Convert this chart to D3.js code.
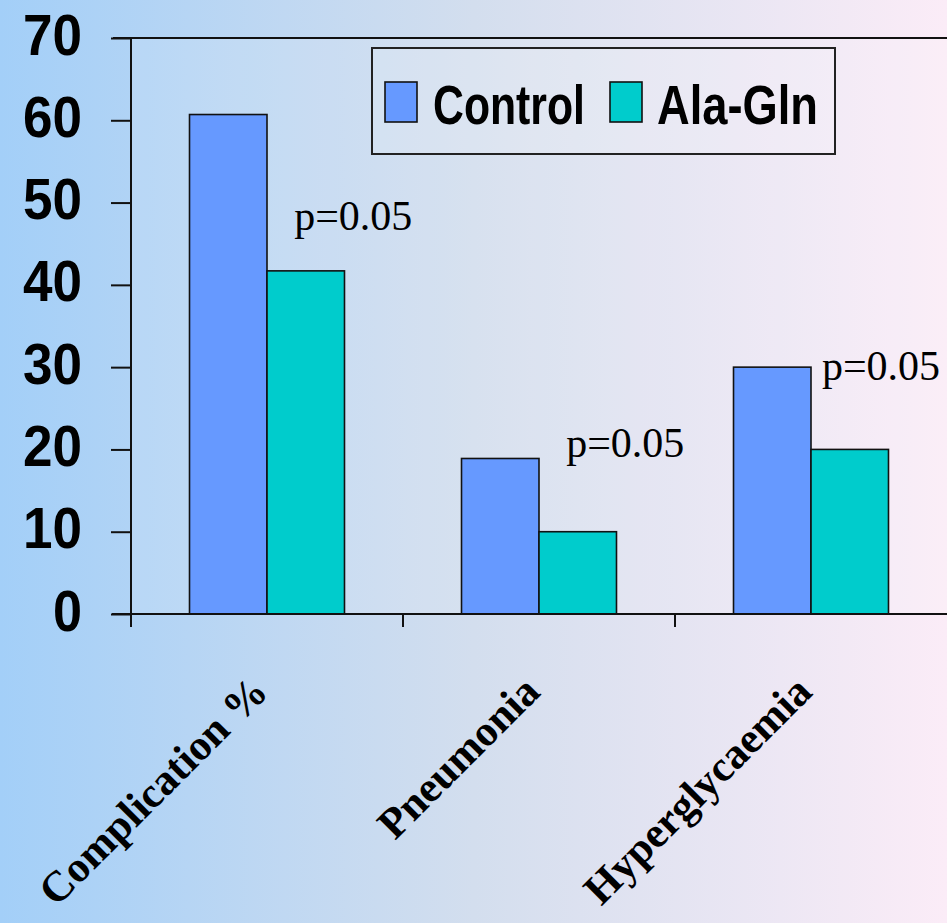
<!DOCTYPE html>
<html>
<head>
<meta charset="utf-8">
<script src="https://cdn.jsdelivr.net/npm/d3@7"></script>
<style>
  html, body { margin: 0; padding: 0; overflow: hidden; }
  svg { display: block; }
</style>
</head>
<body>
<svg id="chart" width="947" height="923"></svg>
<script>
// ---- data ----
const categories = ["Complication %", "Pneumonia", "Hyperglycaemia"];
const seriesNames = ["Control", "Ala-Gln"];
const controlValues = [60.7, 18.9, 30];
const alaGlnValues = [41.7, 10, 20];
const yTicks = [0, 10, 20, 30, 40, 50, 60, 70];
const pLabels = ["p=0.05", "p=0.05", "p=0.05"];
const pLabelValue = [46.7, 19.1, 28.4];     // baseline height in data units
const pLabelBandPos = [0.60, 0.60, 0.54];   // position across the category band
const seriesColors = ["#6699FF", "#00CCCC"];

// ---- layout ----
const W = 947, H = 923;
const plot = { left: 131, right: 947, top: 38, bottom: 614 };
const svg = d3.select("#chart");

const defs = svg.append("defs");
const grad = defs.append("linearGradient").attr("id", "bg").attr("x1", "0").attr("x2", "1").attr("y1", "0").attr("y2", "0");
grad.append("stop").attr("offset", "0").attr("stop-color", "#a3cff8");
grad.append("stop").attr("offset", "0.5").attr("stop-color", "#d3deee");
grad.append("stop").attr("offset", "1").attr("stop-color", "#fbecf7");
svg.append("rect").attr("width", W).attr("height", H).attr("fill", "url(#bg)");

// plot area tint
svg.append("rect")
  .attr("x", plot.left).attr("y", plot.top)
  .attr("width", plot.right - plot.left).attr("height", plot.bottom - plot.top)
  .attr("fill", "#ffffff").attr("fill-opacity", 0.1);

const x0 = d3.scaleBand().domain(categories).range([plot.left, plot.right]).paddingInner(0).paddingOuter(0);
const x1 = d3.scaleBand().domain(seriesNames).range([0, x0.bandwidth()]).paddingInner(0).paddingOuter(0.755);
const y = d3.scaleLinear().domain([0, 70]).range([plot.bottom, plot.top]);

const rows = categories.map((c, i) => ({ cat: c, vals: [controlValues[i], alaGlnValues[i]] }));

// bars
const g = svg.append("g");
rows.forEach(r => {
  r.vals.forEach((v, j) => {
    g.append("rect")
      .attr("x", x0(r.cat) + x1(seriesNames[j]))
      .attr("y", y(v))
      .attr("width", x1.bandwidth())
      .attr("height", y(0) - y(v))
      .attr("fill", seriesColors[j])
      .attr("stroke", "#111")
      .attr("stroke-width", 1.6);
  });
});

// top frame line
svg.append("line")
  .attr("x1", 113).attr("x2", plot.right)
  .attr("y1", y(70)).attr("y2", y(70))
  .attr("stroke", "#111").attr("stroke-width", 2);

// y axis
const yAxis = d3.axisLeft(y).tickValues(yTicks).tickSize(20).tickFormat("");
const yg = svg.append("g").attr("transform", `translate(${plot.left},0)`).call(yAxis);
yg.select(".domain").remove();
yg.selectAll(".tick line").attr("stroke", "#111").attr("stroke-width", 2);
svg.append("line")
  .attr("x1", plot.left).attr("x2", plot.left)
  .attr("y1", plot.top).attr("y2", plot.bottom + 13)
  .attr("stroke", "#111").attr("stroke-width", 2);

svg.append("g").selectAll("text").data(yTicks).join("text")
  .attr("x", 82)
  .attr("y", d => y(d) + 16.5)
  .attr("text-anchor", "end")
  .attr("font-family", "'Liberation Sans', Arial, sans-serif")
  .attr("font-weight", "bold")
  .attr("font-size", 57)
  .attr("textLength", d => String(d).length === 1 ? 29 : 59)
  .attr("lengthAdjust", "spacingAndGlyphs")
  .attr("fill", "#000")
  .text(d => d);

// x axis
svg.append("line")
  .attr("x1", 112).attr("x2", plot.right)
  .attr("y1", plot.bottom).attr("y2", plot.bottom)
  .attr("stroke", "#111").attr("stroke-width", 2);
const boundaries = categories.map(c => x0(c));
svg.append("g").selectAll("line").data(boundaries).join("line")
  .attr("x1", d => d).attr("x2", d => d)
  .attr("y1", plot.bottom).attr("y2", plot.bottom + 13)
  .attr("stroke", "#111").attr("stroke-width", 2);

// category labels
svg.append("g").selectAll("text").data(categories).join("text")
  .attr("transform", d => `translate(${x0(d) + x0.bandwidth() / 2 + 3},694) rotate(-45)`)
  .attr("text-anchor", "end")
  .attr("font-family", "'Liberation Serif', 'Times New Roman', serif")
  .attr("font-weight", "bold")
  .attr("font-size", 43)
  .attr("fill", "#000")
  .text(d => d);

// p-value annotations
svg.append("g").selectAll("text").data(categories).join("text")
  .attr("x", (d, i) => x0(d) + x0.bandwidth() * pLabelBandPos[i])
  .attr("y", (d, i) => y(pLabelValue[i]))
  .attr("font-family", "'Liberation Serif', 'Times New Roman', serif")
  .attr("font-size", 42)
  .attr("fill", "#000")
  .text((d, i) => pLabels[i]);

// legend
const lg = svg.append("g");
lg.append("rect")
  .attr("x", 372).attr("y", 48).attr("width", 463).attr("height", 106)
  .attr("fill", "#ffffff").attr("fill-opacity", 0.12)
  .attr("stroke", "#222").attr("stroke-width", 2);
const legendItems = [
  { name: seriesNames[0], color: seriesColors[0], sx: 385, tx: 433, tl: 152 },
  { name: seriesNames[1], color: seriesColors[1], sx: 610, tx: 657, tl: 161 }
];
legendItems.forEach(it => {
  lg.append("rect")
    .attr("x", it.sx).attr("y", 82).attr("width", 32).attr("height", 40)
    .attr("fill", it.color).attr("stroke", "#111").attr("stroke-width", 1.6);
  lg.append("text")
    .attr("x", it.tx).attr("y", 124)
    .attr("font-family", "'Liberation Sans', Arial, sans-serif")
    .attr("font-weight", "bold")
    .attr("font-size", 56)
    .attr("textLength", it.tl)
    .attr("lengthAdjust", "spacingAndGlyphs")
    .attr("fill", "#000")
    .text(it.name);
});
</script>
</body>
</html>
